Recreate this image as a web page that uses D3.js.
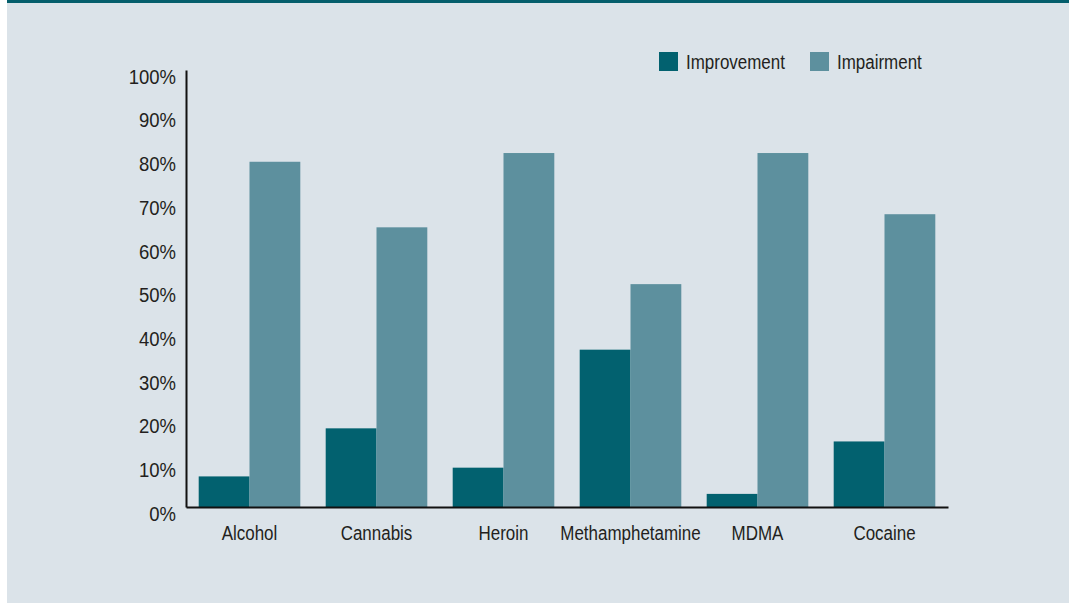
<!DOCTYPE html>
<html>
<head>
<meta charset="utf-8">
<script src="https://cdn.jsdelivr.net/npm/d3@7"></script>
<style>
  html, body { margin: 0; padding: 0; background: #ffffff; }
  svg { display: block; }
  text { font-family: "Liberation Sans", Arial, sans-serif; fill: #231f20; }
</style>
</head>
<body>
<svg id="chart" width="1069" height="603"></svg>
<script>
// Share of users reporting improvement vs impairment, by substance
const categories = ["Alcohol", "Cannabis", "Heroin", "Methamphetamine", "MDMA", "Cocaine"];
const improvement = [7, 18, 9, 36, 3, 15];
const impairment = [79, 64, 81, 51, 81, 67];
const seriesNames = ["Improvement", "Impairment"];
const yTicks = [0, 10, 20, 30, 40, 50, 60, 70, 80, 90, 100];

const colors = { Improvement: "#02616f", Impairment: "#5d909e" };
const FONT = "'Liberation Sans', Arial, sans-serif";
const FS = 19.5;
const NARROW = 0.87;     // horizontal squeeze for a condensed look
const NARROW_NUM = 0.95; // digits are set a little wider

const svg = d3.select("#chart");
const W = 1069, H = 603;

// panel background and top rule
svg.append("rect").attr("x", 7).attr("y", 0).attr("width", W - 7).attr("height", H).attr("fill", "#dbe3e9");
svg.append("rect").attr("x", 7).attr("y", 0).attr("width", W - 7).attr("height", 3).attr("fill", "#045e6c");

const plot = { left: 186, right: 948, top: 70, bottom: 507 };

const x = d3.scaleBand().domain(categories).range([plot.left, plot.right])
  .paddingInner(0.2).paddingOuter(0.1);
const xs = d3.scaleBand().domain(seriesNames).range([0, x.bandwidth()]);
const y = d3.scaleLinear().domain([0, 100]).range([plot.bottom, plot.top]);

const rows = categories.map((c, i) => ({ cat: c, Improvement: improvement[i], Impairment: impairment[i] }));

// bars
const groups = svg.append("g").selectAll("g").data(rows).join("g")
  .attr("transform", d => `translate(${x(d.cat)},0)`);
groups.selectAll("rect").data(d => seriesNames.map(s => ({ s, v: d[s] }))).join("rect")
  .attr("x", d => xs(d.s))
  .attr("width", xs.bandwidth())
  .attr("y", d => y(d.v))
  .attr("height", d => y(0) - y(d.v))
  .attr("fill", d => colors[d.s]);

// y axis
const yAxis = svg.append("g").attr("transform", `translate(${plot.left},0)`)
  .call(d3.axisLeft(y).tickValues(yTicks).tickSize(0).tickPadding(10).tickFormat(d => d + "%"));
yAxis.select(".domain").attr("stroke", "#111").attr("stroke-width", 2);
yAxis.selectAll(".tick text").attr("font-size", FS).attr("dy", "0.68em")
  .attr("font-family", FONT).attr("fill", "#231f20")
  .attr("x", -10 / NARROW_NUM).attr("transform", `scale(${NARROW_NUM},1)`);

// x axis
const xAxis = svg.append("g").attr("transform", `translate(0,${plot.bottom})`)
  .call(d3.axisBottom(x).tickSize(0).tickPadding(19));
xAxis.select(".domain").attr("stroke", "#111").attr("stroke-width", 2);
xAxis.selectAll(".tick text").attr("font-size", FS)
  .attr("font-family", FONT).attr("fill", "#231f20")
  .attr("transform", `scale(${NARROW},1)`);

// legend
const legendPos = { Improvement: 659, Impairment: 810 };
const legend = svg.append("g").selectAll("g").data(seriesNames).join("g")
  .attr("transform", d => `translate(${legendPos[d]},52)`);
legend.append("rect").attr("width", 19).attr("height", 19).attr("fill", d => colors[d]);
legend.append("text").attr("x", 27 / NARROW).attr("y", 17).attr("font-size", FS).attr("font-family", FONT)
  .attr("transform", `scale(${NARROW},1)`).text(d => d);
</script>
</body>
</html>
